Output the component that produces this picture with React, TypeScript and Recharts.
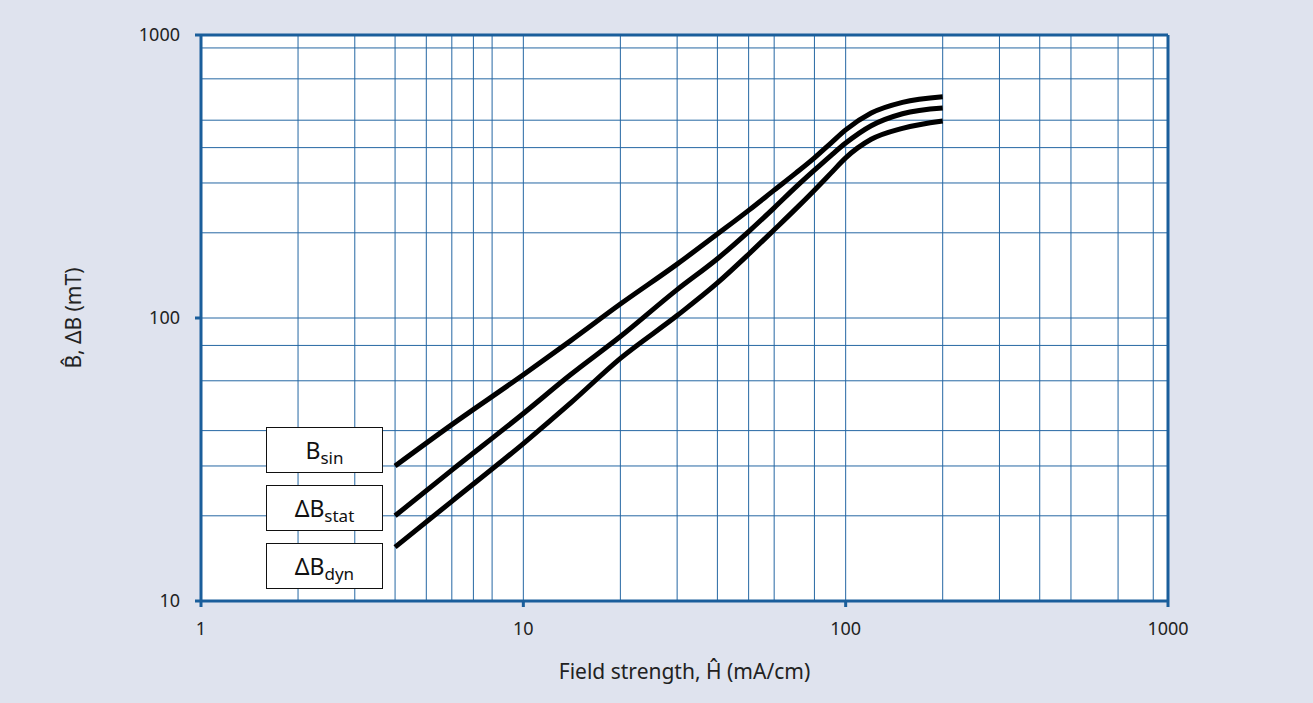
import React from "react";
import {
  CartesianGrid,
  Line,
  LineChart,
  ReferenceLine,
  XAxis,
  YAxis,
} from "recharts";

// field strength H (mA/cm)
const hValues = [4, 6, 10, 14, 20, 30, 40, 50, 60, 70, 80, 90, 100, 120, 150, 200];
// flux density curves (mT)
const bSin = [30, 42, 63, 83, 112, 155, 198, 240, 283, 325, 368, 415, 462, 530, 578, 605];
const dBStat = [20, 29, 46, 63, 86, 126, 162, 202, 245, 290, 333, 375, 415, 478, 527, 552];
const dBDyn = [15.5, 22.5, 36, 50, 72, 102, 133, 168, 205, 243, 283, 325, 368, 428, 468, 497];

const xTicks = [1, 10, 100, 1000];
const yTicks = [10, 100, 1000];
const xGrid = [2, 3, 4, 5, 6, 7, 8, 9, 10, 20, 30, 40, 50, 60, 70, 80, 90, 100, 200, 300, 400, 500, 600, 700, 800, 900];
const yGrid = [20, 30, 40, 50, 60, 70, 80, 90, 100, 200, 300, 400, 500, 600, 700, 800, 900];

const data = hValues.map((h, i) => ({
  h,
  bSin: bSin[i],
  dBStat: dBStat[i],
  dBDyn: dBDyn[i],
}));

const axisBlue = "#1a5e9b";
const gridBlue = "#2567a3";
const font = "'Noto Sans', 'Open Sans', sans-serif";

const boxStyle: React.CSSProperties = {
  position: "absolute",
  left: 266,
  width: 117,
  height: 46,
  background: "#fff",
  border: "1.5px solid #111",
  boxSizing: "border-box",
  display: "flex",
  alignItems: "center",
  justifyContent: "center",
  fontFamily: font,
  fontSize: 23,
  color: "#111",
};

const subStyle: React.CSSProperties = {
  fontSize: 17,
  position: "relative",
  top: 7,
};

export default function App() {
  return (
    <div
      style={{
        position: "fixed",
        left: 0,
        top: 0,
        width: 1313,
        height: 703,
        background: "#dfe3ee",
        fontFamily: font,
      }}
    >
      <LineChart
        width={1313}
        height={703}
        data={data}
        margin={{ top: 35, right: 145, bottom: 0, left: 0 }}
      >
        <CartesianGrid
          fill="#fff"
          stroke={gridBlue}
          strokeWidth={1}
          horizontalValues={yGrid}
          verticalValues={xGrid}
        />
        <XAxis
          dataKey="h"
          type="number"
          scale="log"
          domain={[1, 1000]}
          ticks={xTicks}
          allowDataOverflow
          height={102}
          tickSize={6}
          tickMargin={15}
          axisLine={{ stroke: axisBlue, strokeWidth: 3 }}
          tickLine={{ stroke: axisBlue, strokeWidth: 3 }}
          tick={{ fill: "#222", fontSize: 18, fontFamily: font }}
          label={{
            value: "Field strength, Ĥ (mA/cm)",
            position: "insideBottom",
            offset: 24,
            fill: "#222",
            fontSize: 21,
            fontFamily: font,
          }}
        />
        <YAxis
          type="number"
          scale="log"
          domain={[10, 1000]}
          ticks={yTicks}
          allowDataOverflow
          width={201}
          tickSize={6}
          tickMargin={15}
          axisLine={{ stroke: axisBlue, strokeWidth: 3 }}
          tickLine={{ stroke: axisBlue, strokeWidth: 3 }}
          tick={{ fill: "#222", fontSize: 18, fontFamily: font }}
        />
        <ReferenceLine y={1000} stroke={axisBlue} strokeWidth={3} />
        <ReferenceLine x={1000} stroke={axisBlue} strokeWidth={3} />
        <Line
          dataKey="bSin"
          type="monotone"
          stroke="#000"
          strokeWidth={5}
          dot={false}
          isAnimationActive={false}
        />
        <Line
          dataKey="dBStat"
          type="monotone"
          stroke="#000"
          strokeWidth={5}
          dot={false}
          isAnimationActive={false}
        />
        <Line
          dataKey="dBDyn"
          type="monotone"
          stroke="#000"
          strokeWidth={5}
          dot={false}
          isAnimationActive={false}
        />
      </LineChart>

      <div
        style={{
          position: "absolute",
          left: 73,
          top: 318,
          transform: "translate(-50%, -50%) rotate(-90deg)",
          whiteSpace: "nowrap",
          fontSize: 21,
          color: "#222",
        }}
      >
        B̂, ΔB (mT)
      </div>

      <div style={{ ...boxStyle, top: 427 }}>
        B<span style={subStyle}>sin</span>
      </div>
      <div style={{ ...boxStyle, top: 485 }}>
        ΔB<span style={subStyle}>stat</span>
      </div>
      <div style={{ ...boxStyle, top: 543 }}>
        ΔB<span style={subStyle}>dyn</span>
      </div>
    </div>
  );
}
